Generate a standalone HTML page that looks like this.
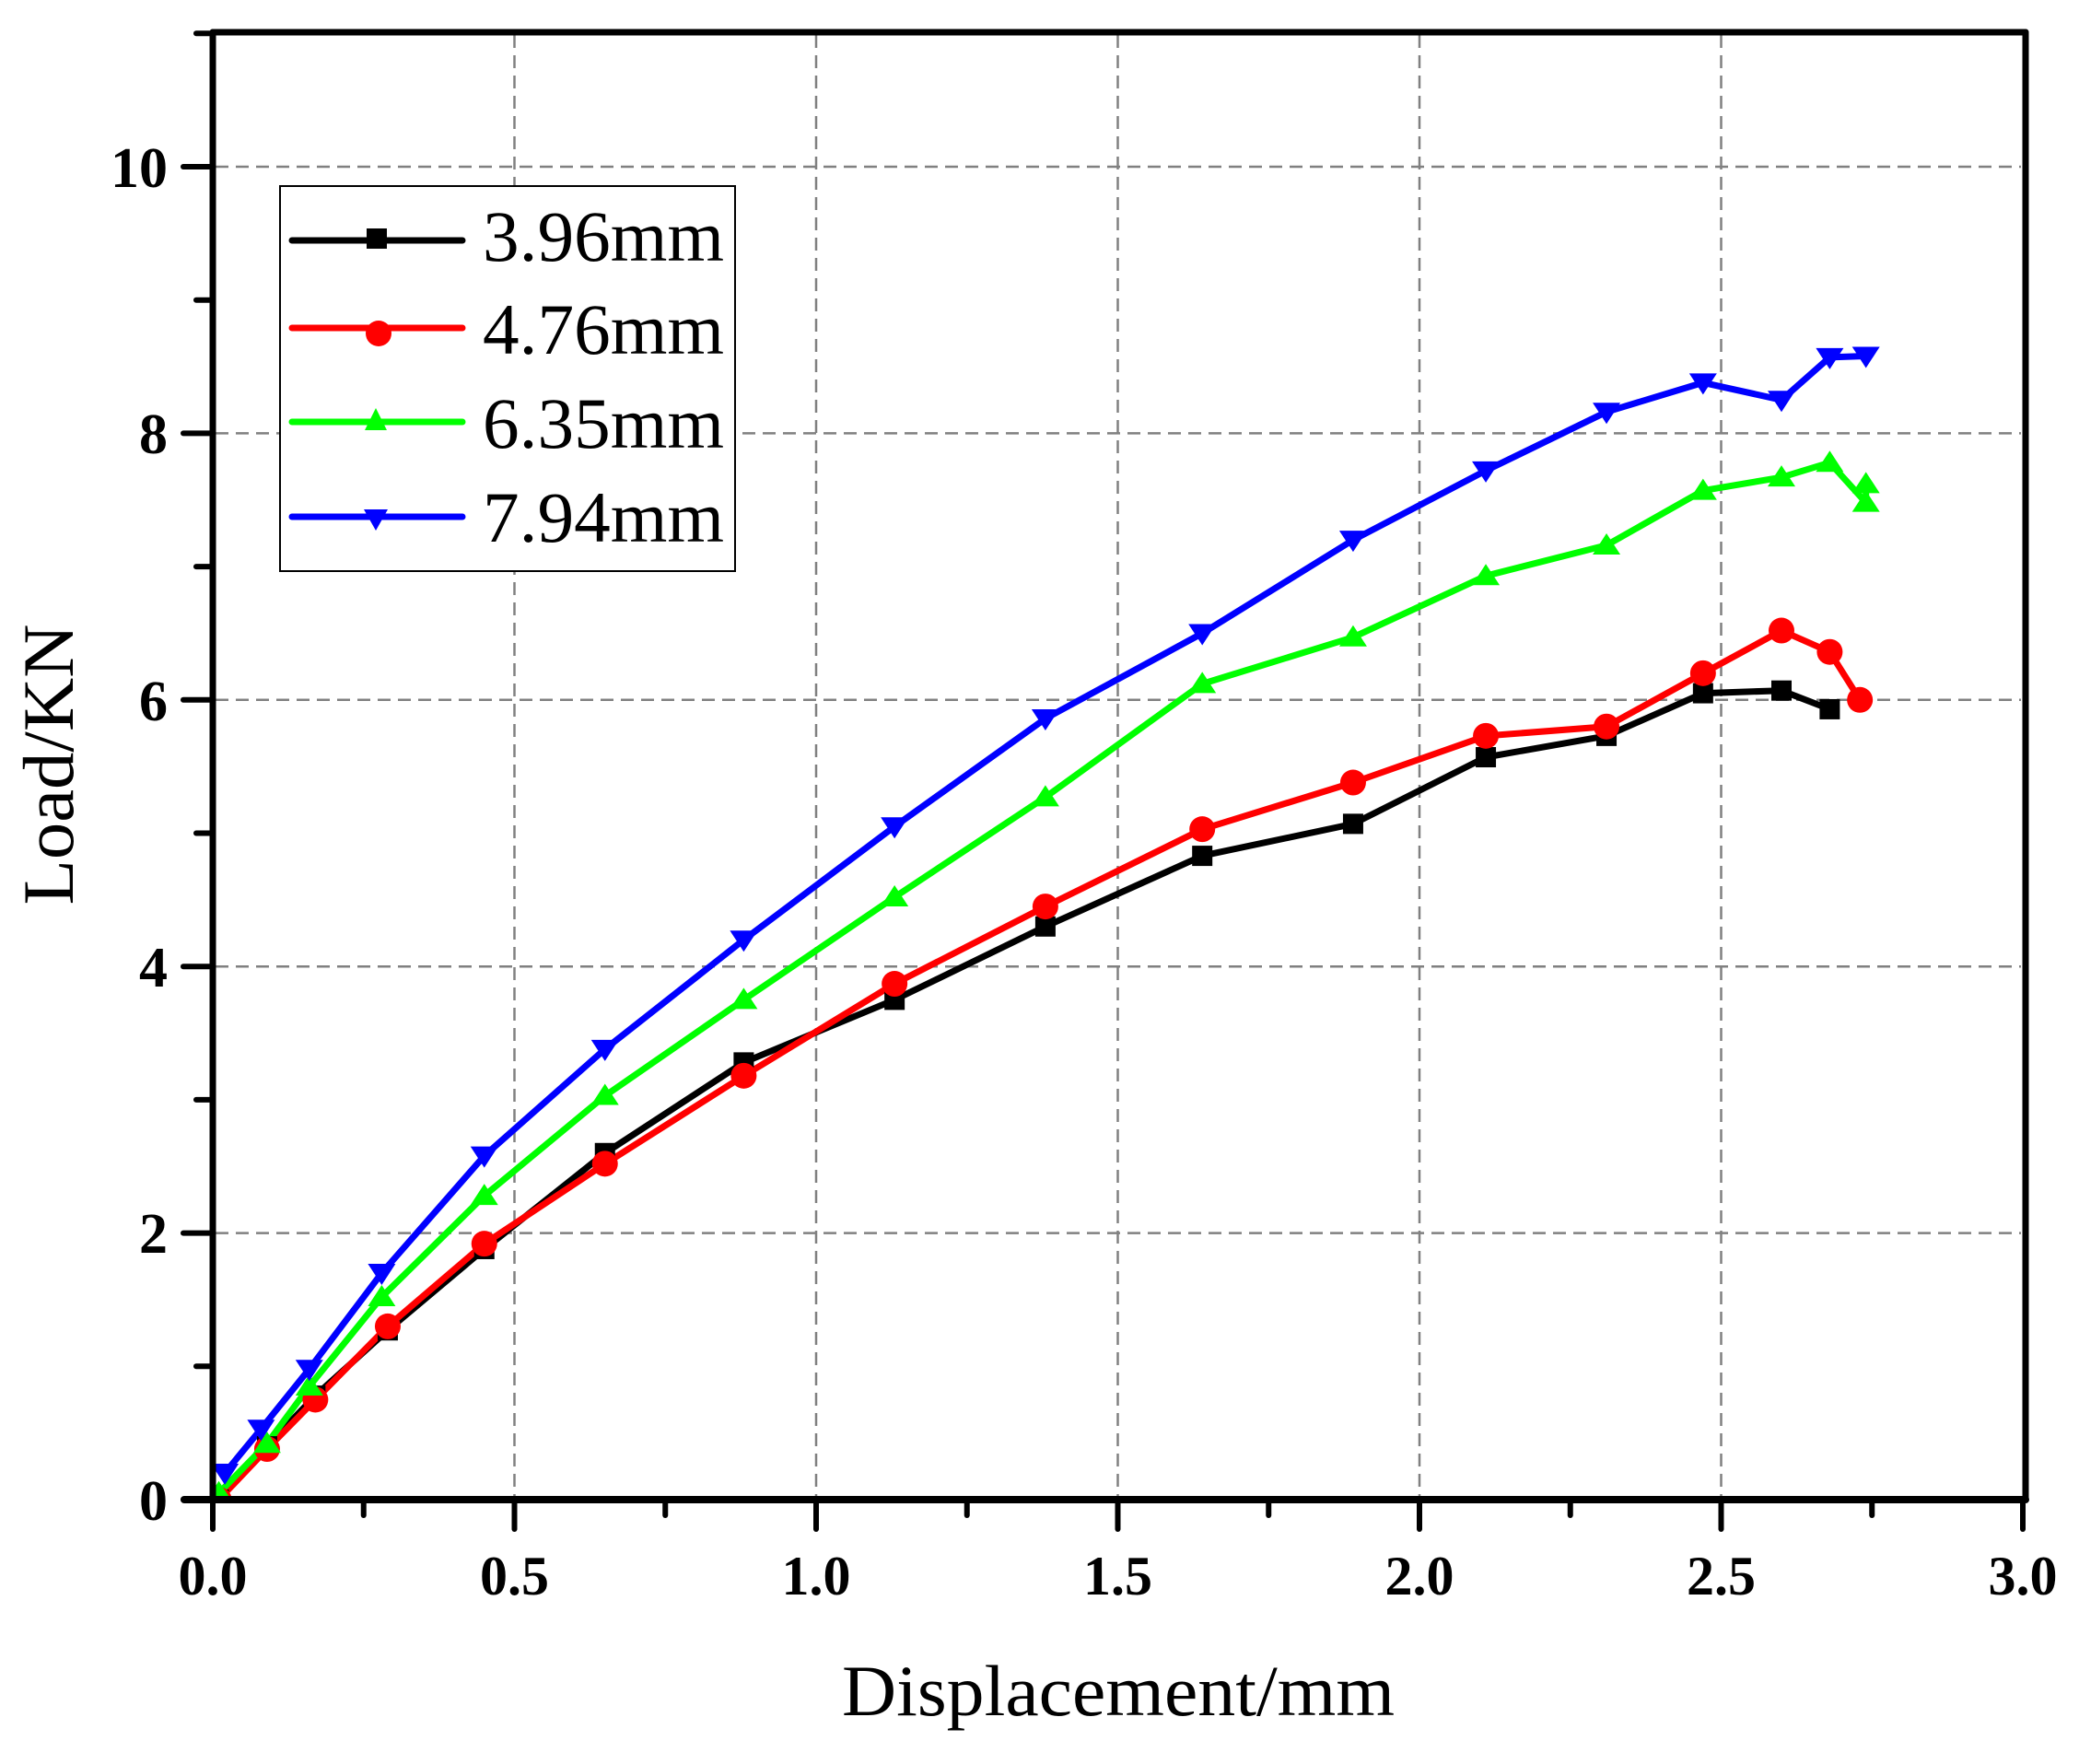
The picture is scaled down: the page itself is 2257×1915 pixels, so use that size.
<!DOCTYPE html>
<html><head><meta charset="utf-8"><style>
html,body{margin:0;padding:0;background:#fff;}
svg{display:block;}
</style></head><body>
<svg width="2257" height="1915" viewBox="0 0 2257 1915" xmlns="http://www.w3.org/2000/svg">
<rect width="2257" height="1915" fill="#fff"/>
<defs>
<clipPath id="c"><rect x="231" y="35" width="1966" height="1593"/></clipPath>
</defs>
<!-- grid -->
<g stroke="#808080" stroke-width="2.5" stroke-dasharray="14,8">
<line x1="558.5" y1="38" x2="558.5" y2="1625"/>
<line x1="886" y1="38" x2="886" y2="1625"/>
<line x1="1213.5" y1="38" x2="1213.5" y2="1625"/>
<line x1="1541" y1="38" x2="1541" y2="1625"/>
<line x1="1868.5" y1="38" x2="1868.5" y2="1625"/>
<line x1="234" y1="1338.6" x2="2194" y2="1338.6"/>
<line x1="234" y1="1049.2" x2="2194" y2="1049.2"/>
<line x1="234" y1="759.8" x2="2194" y2="759.8"/>
<line x1="234" y1="470.4" x2="2194" y2="470.4"/>
<line x1="234" y1="181" x2="2194" y2="181"/>
</g>
<!-- series -->
<g id="series" fill="none" stroke-width="7" stroke-linejoin="round" stroke-linecap="round" clip-path="url(#c)"></g>
<!-- axes -->
<g stroke="#000" stroke-linecap="round">
<line x1="231" y1="35" x2="2199" y2="35" stroke-width="7"/>
<line x1="2199" y1="35" x2="2199" y2="1628" stroke-width="7"/>
<line x1="231" y1="35" x2="231" y2="1628" stroke-width="7"/>
<line x1="200" y1="1628" x2="2199" y2="1628" stroke-width="8"/>
</g>
<g id="ticks" stroke="#000" stroke-width="6" stroke-linecap="round"></g>
<g font-family="'Liberation Serif',serif" font-weight="bold" font-size="60" text-anchor="middle" fill="#000">
<text x="231" y="1731">0.0</text>
<text x="558.5" y="1731">0.5</text>
<text x="886" y="1731">1.0</text>
<text x="1213.5" y="1731">1.5</text>
<text x="1541" y="1731">2.0</text>
<text x="1868.5" y="1731">2.5</text>
<text x="2196" y="1731">3.0</text>
</g>
<g font-family="'Liberation Serif',serif" font-weight="bold" font-size="62" text-anchor="end" fill="#000">
<text x="182" y="1650">0</text>
<text x="182" y="1360">2</text>
<text x="182" y="1071">4</text>
<text x="182" y="782">6</text>
<text x="182" y="492">8</text>
<text x="182" y="203">10</text>
</g>
<text x="1214" y="1862" font-family="'Liberation Serif',serif" font-size="78" text-anchor="middle" textLength="600" lengthAdjust="spacingAndGlyphs">Displacement/mm</text>
<text transform="translate(79,830) rotate(-90)" font-family="'Liberation Serif',serif" font-size="78" text-anchor="middle" textLength="305" lengthAdjust="spacingAndGlyphs">Load/KN</text>
<!-- legend -->
<rect x="304" y="202" width="494" height="418" fill="#fff" stroke="#000" stroke-width="2"/>
<g stroke-width="7" stroke-linecap="round">
<line x1="317" y1="261" x2="502" y2="261" stroke="#000"/>
<line x1="317" y1="356" x2="502" y2="356" stroke="#f00"/>
<line x1="317" y1="458" x2="502" y2="458" stroke="#0f0"/>
<line x1="317" y1="561" x2="502" y2="561" stroke="#00f"/>
</g>
<rect x="398" y="248" width="22" height="22" fill="#000"/>
<circle cx="411" cy="362" r="14" fill="#f00"/>
<polygon points="396,467 420,467 408,443" fill="#0f0"/>
<polygon points="395,553 421,553 408,576" fill="#00f"/>
<g font-family="'Liberation Serif',serif" font-size="78" fill="#000">
<text x="524" y="283" textLength="262" lengthAdjust="spacingAndGlyphs">3.96mm</text>
<text x="524" y="384" textLength="262" lengthAdjust="spacingAndGlyphs">4.76mm</text>
<text x="524" y="486" textLength="262" lengthAdjust="spacingAndGlyphs">6.35mm</text>
<text x="524" y="588" textLength="262" lengthAdjust="spacingAndGlyphs">7.94mm</text>
</g>
</svg>
<script>
(function(){
var NS="http://www.w3.org/2000/svg";
function X(x){return 231+655*x;} function Y(y){return 1628-144.7*y;}
var data=[
{c:"#000",m:"s",p:[[0.01,0],[0.09,0.4],[0.17,0.78],[0.29,1.27],[0.45,1.88],[0.65,2.6],[0.88,3.28],[1.13,3.75],[1.38,4.3],[1.64,4.83],[1.89,5.07],[2.11,5.57],[2.31,5.73],[2.47,6.05],[2.60,6.07],[2.68,5.93]]},
{c:"#f00",m:"o",p:[[0.01,0],[0.09,0.38],[0.17,0.75],[0.29,1.3],[0.45,1.92],[0.65,2.52],[0.88,3.18],[1.13,3.87],[1.38,4.45],[1.64,5.03],[1.89,5.38],[2.11,5.73],[2.31,5.8],[2.47,6.2],[2.60,6.52],[2.68,6.36],[2.73,6.0]]},
{c:"#0f0",m:"t",p:[[0.01,0.05],[0.09,0.42],[0.16,0.85],[0.28,1.52],[0.45,2.28],[0.65,3.03],[0.88,3.75],[1.13,4.52],[1.38,5.27],[1.64,6.12],[1.89,6.47],[2.11,6.93],[2.31,7.16],[2.47,7.57],[2.60,7.67],[2.68,7.78],[2.74,7.48],[2.74,7.62]]},
{c:"#00f",m:"v",p:[[0.02,0.2],[0.08,0.53],[0.16,0.98],[0.28,1.7],[0.45,2.58],[0.65,3.38],[0.88,4.2],[1.13,5.05],[1.38,5.86],[1.64,6.5],[1.89,7.2],[2.11,7.72],[2.31,8.16],[2.47,8.38],[2.60,8.25],[2.68,8.57],[2.74,8.58]]}];
var g=document.getElementById("series");
data.forEach(function(s){
 var pl=document.createElementNS(NS,"polyline");
 pl.setAttribute("points",s.p.map(function(q){return X(q[0]).toFixed(1)+","+Y(q[1]).toFixed(1);}).join(" "));
 pl.setAttribute("stroke",s.c); g.appendChild(pl);
});
data.forEach(function(s){
 s.p.forEach(function(q){
  var x=X(q[0]),y=Y(q[1]),e;
  if(s.m=="s"){e=document.createElementNS(NS,"rect");e.setAttribute("x",x-11);e.setAttribute("y",y-11);e.setAttribute("width",22);e.setAttribute("height",22);}
  else if(s.m=="o"){e=document.createElementNS(NS,"circle");e.setAttribute("cx",x);e.setAttribute("cy",y);e.setAttribute("r",14);}
  else if(s.m=="t"){e=document.createElementNS(NS,"polygon");e.setAttribute("points",(x-15)+","+(y+10)+" "+(x+15)+","+(y+10)+" "+x+","+(y-13));}
  else {e=document.createElementNS(NS,"polygon");e.setAttribute("points",(x-15)+","+(y-10)+" "+(x+15)+","+(y-10)+" "+x+","+(y+13));}
  e.setAttribute("fill",s.c);e.setAttribute("stroke","none");g.appendChild(e);
 });
});
var t=document.getElementById("ticks");
function L(a,b,c,d){var l=document.createElementNS(NS,"line");l.setAttribute("x1",a);l.setAttribute("y1",b);l.setAttribute("x2",c);l.setAttribute("y2",d);t.appendChild(l);}
for(var i=0;i<=12;i++){var x=231+163.75*i;L(x,1628,x,i%2?1645:1660);}
for(var j=0;j<=11;j++){var y=1628-144.7*j;L(231,y,j%2?213:199,y);}
})();
</script>
</body></html>
